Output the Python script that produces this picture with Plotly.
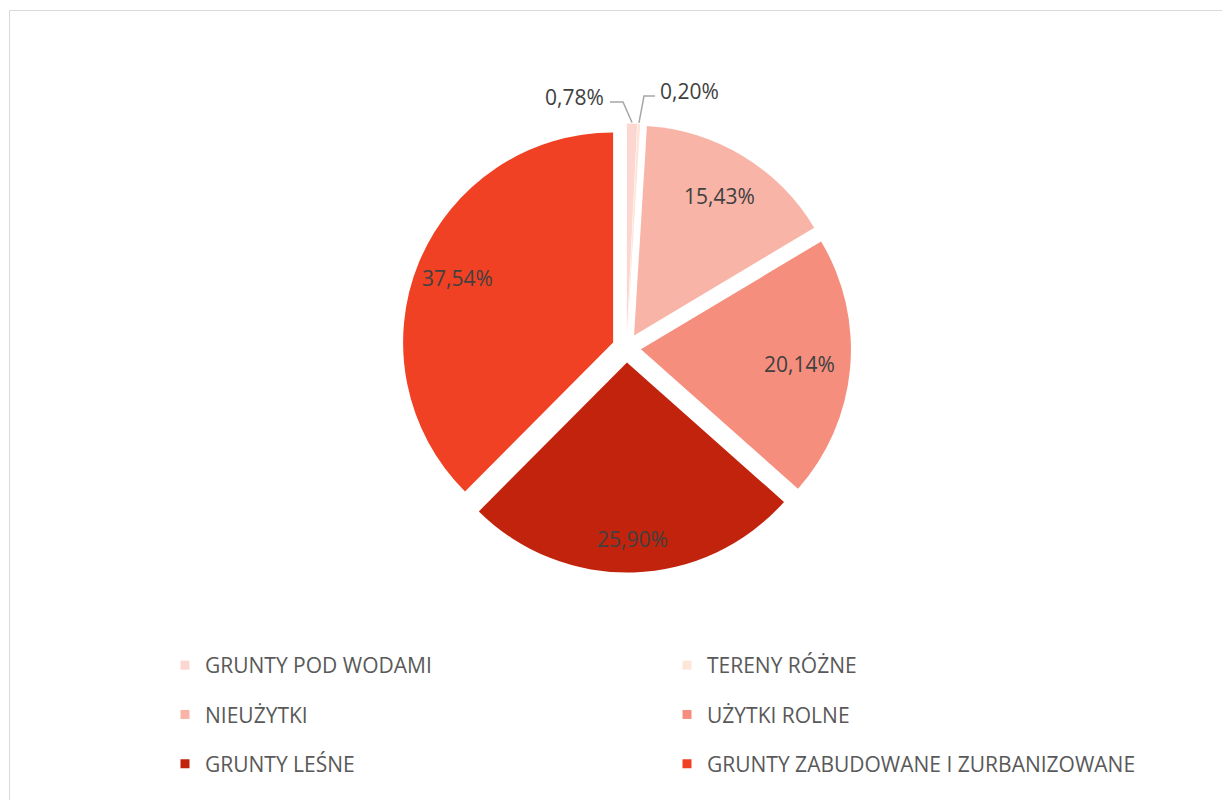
import math
import plotly.graph_objects as go

W, H = 1222, 800

labels = ["GRUNTY POD WODAMI", "TERENY RÓŻNE", "NIEUŻYTKI", "UŻYTKI ROLNE",
          "GRUNTY LEŚNE", "GRUNTY ZABUDOWANE I ZURBANIZOWANE"]
values = [0.78, 0.20, 15.43, 20.14, 25.90, 37.54]
colors = ["#FCD6D1", "#FDE5D8", "#F9B4A8", "#F68E7E", "#C1230C", "#F04124"]
# radial position of each inside label (fraction of radius, "best fit" placement)
label_r = [None, None, 0.78, 0.76, 0.84, 0.80]

FONT = "Open Sans"
PULL = 0.069
DOMAIN_X = [402 / W, 851 / W]
DOMAIN_Y = [227.5 / H, 676.5 / H]

def pct(v):
    return f"{v:.2f}".replace(".", ",") + "%"

fig = go.Figure()
fig.add_trace(go.Pie(
    labels=labels, values=values, sort=False, direction="clockwise", rotation=0,
    marker=dict(colors=colors, line=dict(width=0)),
    pull=[PULL] * len(values),
    textinfo="none",
    domain=dict(x=DOMAIN_X, y=DOMAIN_Y),
    showlegend=False, hoverinfo="label+percent",
))

# legend entries (two columns)
for i, (lab, col) in enumerate(zip(labels, colors)):
    fig.add_trace(go.Scatter(
        x=[None], y=[None], mode="markers", name=lab,
        marker=dict(symbol="square", size=9, color=col),
        legend="legend" if i % 2 == 0 else "legend2",
        legendgroup=lab, showlegend=True, hoverinfo="skip",
    ))

legend_common = dict(orientation="v", yanchor="top", xanchor="left",
                     font=dict(family=FONT, size=21, color="#595959"),
                     tracegroupgap=19, bgcolor="rgba(0,0,0,0)", itemclick=False)

# geometry of the pie (pixels) derived from its domain
cx = (DOMAIN_X[0] + DOMAIN_X[1]) / 2 * W
cy = (1 - (DOMAIN_Y[0] + DOMAIN_Y[1]) / 2) * H
R = min((DOMAIN_X[1] - DOMAIN_X[0]) * W, (DOMAIN_Y[1] - DOMAIN_Y[0]) * H) / (2 + 2 * PULL)
p = PULL * R
total = sum(values)

def to_paper(x, y):
    return x / W, 1 - y / H

annotations = []
shapes = []
mids = []
cum = 0.0
for v in values:
    mids.append((cum + v / 2) / total * 360.0)
    cum += v

# inside labels for the large slices
for v, mid, fr in zip(values, mids, label_r):
    if fr is None:
        continue
    a = math.radians(mid)
    x = cx + (p + fr * R) * math.sin(a)
    y = cy - (p + fr * R) * math.cos(a)
    px, py = to_paper(x, y)
    annotations.append(dict(x=px, y=py, xref="paper", yref="paper", text=pct(v), showarrow=False,
                            xanchor="center", yanchor="middle",
                            font=dict(family=FONT, size=21, color="#404040")))

# leader lines + labels for tiny slices: (slice index, elbow x, elbow y, end x, side)
configs = [(0, 623, 102, 610, "right"), (1, 644, 96, 655, "left")]
for idx, ex, ey, hx, side in configs:
    a = math.radians(mids[idx])
    tx = cx + (R + p + 1) * math.sin(a)
    ty = cy - (R + p + 1) * math.cos(a)
    pts = [to_paper(tx, ty), to_paper(ex, ey), to_paper(hx, ey)]
    path = "M {} {} L {} {} L {} {}".format(pts[0][0], pts[0][1], pts[1][0], pts[1][1], pts[2][0], pts[2][1])
    shapes.append(dict(type="path", xref="paper", yref="paper", path=path,
                       line=dict(color="#A6A6A6", width=1.5)))
    ax, ay = to_paper(hx - 4 if side == "right" else hx + 3, ey - 5)
    annotations.append(dict(x=ax, y=ay, xref="paper", yref="paper", text=pct(values[idx]), showarrow=False,
                            xanchor=side, yanchor="middle",
                            font=dict(family=FONT, size=21, color="#404040")))

shapes.append(dict(type="rect", xref="paper", yref="paper",
                   x0=9.5 / W, x1=1.01, y0=-0.01, y1=1 - 10.5 / H,
                   line=dict(color="#D9D9D9", width=1), fillcolor="rgba(0,0,0,0)", layer="below"))

fig.update_layout(
    width=W, height=H, margin=dict(l=0, r=0, t=0, b=0),
    paper_bgcolor="white", plot_bgcolor="white",
    xaxis=dict(visible=False), yaxis=dict(visible=False),
    legend=dict(x=165 / W, y=1 - 645 / H, **legend_common),
    legend2=dict(x=667 / W, y=1 - 645 / H, **legend_common),
    annotations=annotations, shapes=shapes,
    font=dict(family=FONT),
)

fig.write_html("out.html")
